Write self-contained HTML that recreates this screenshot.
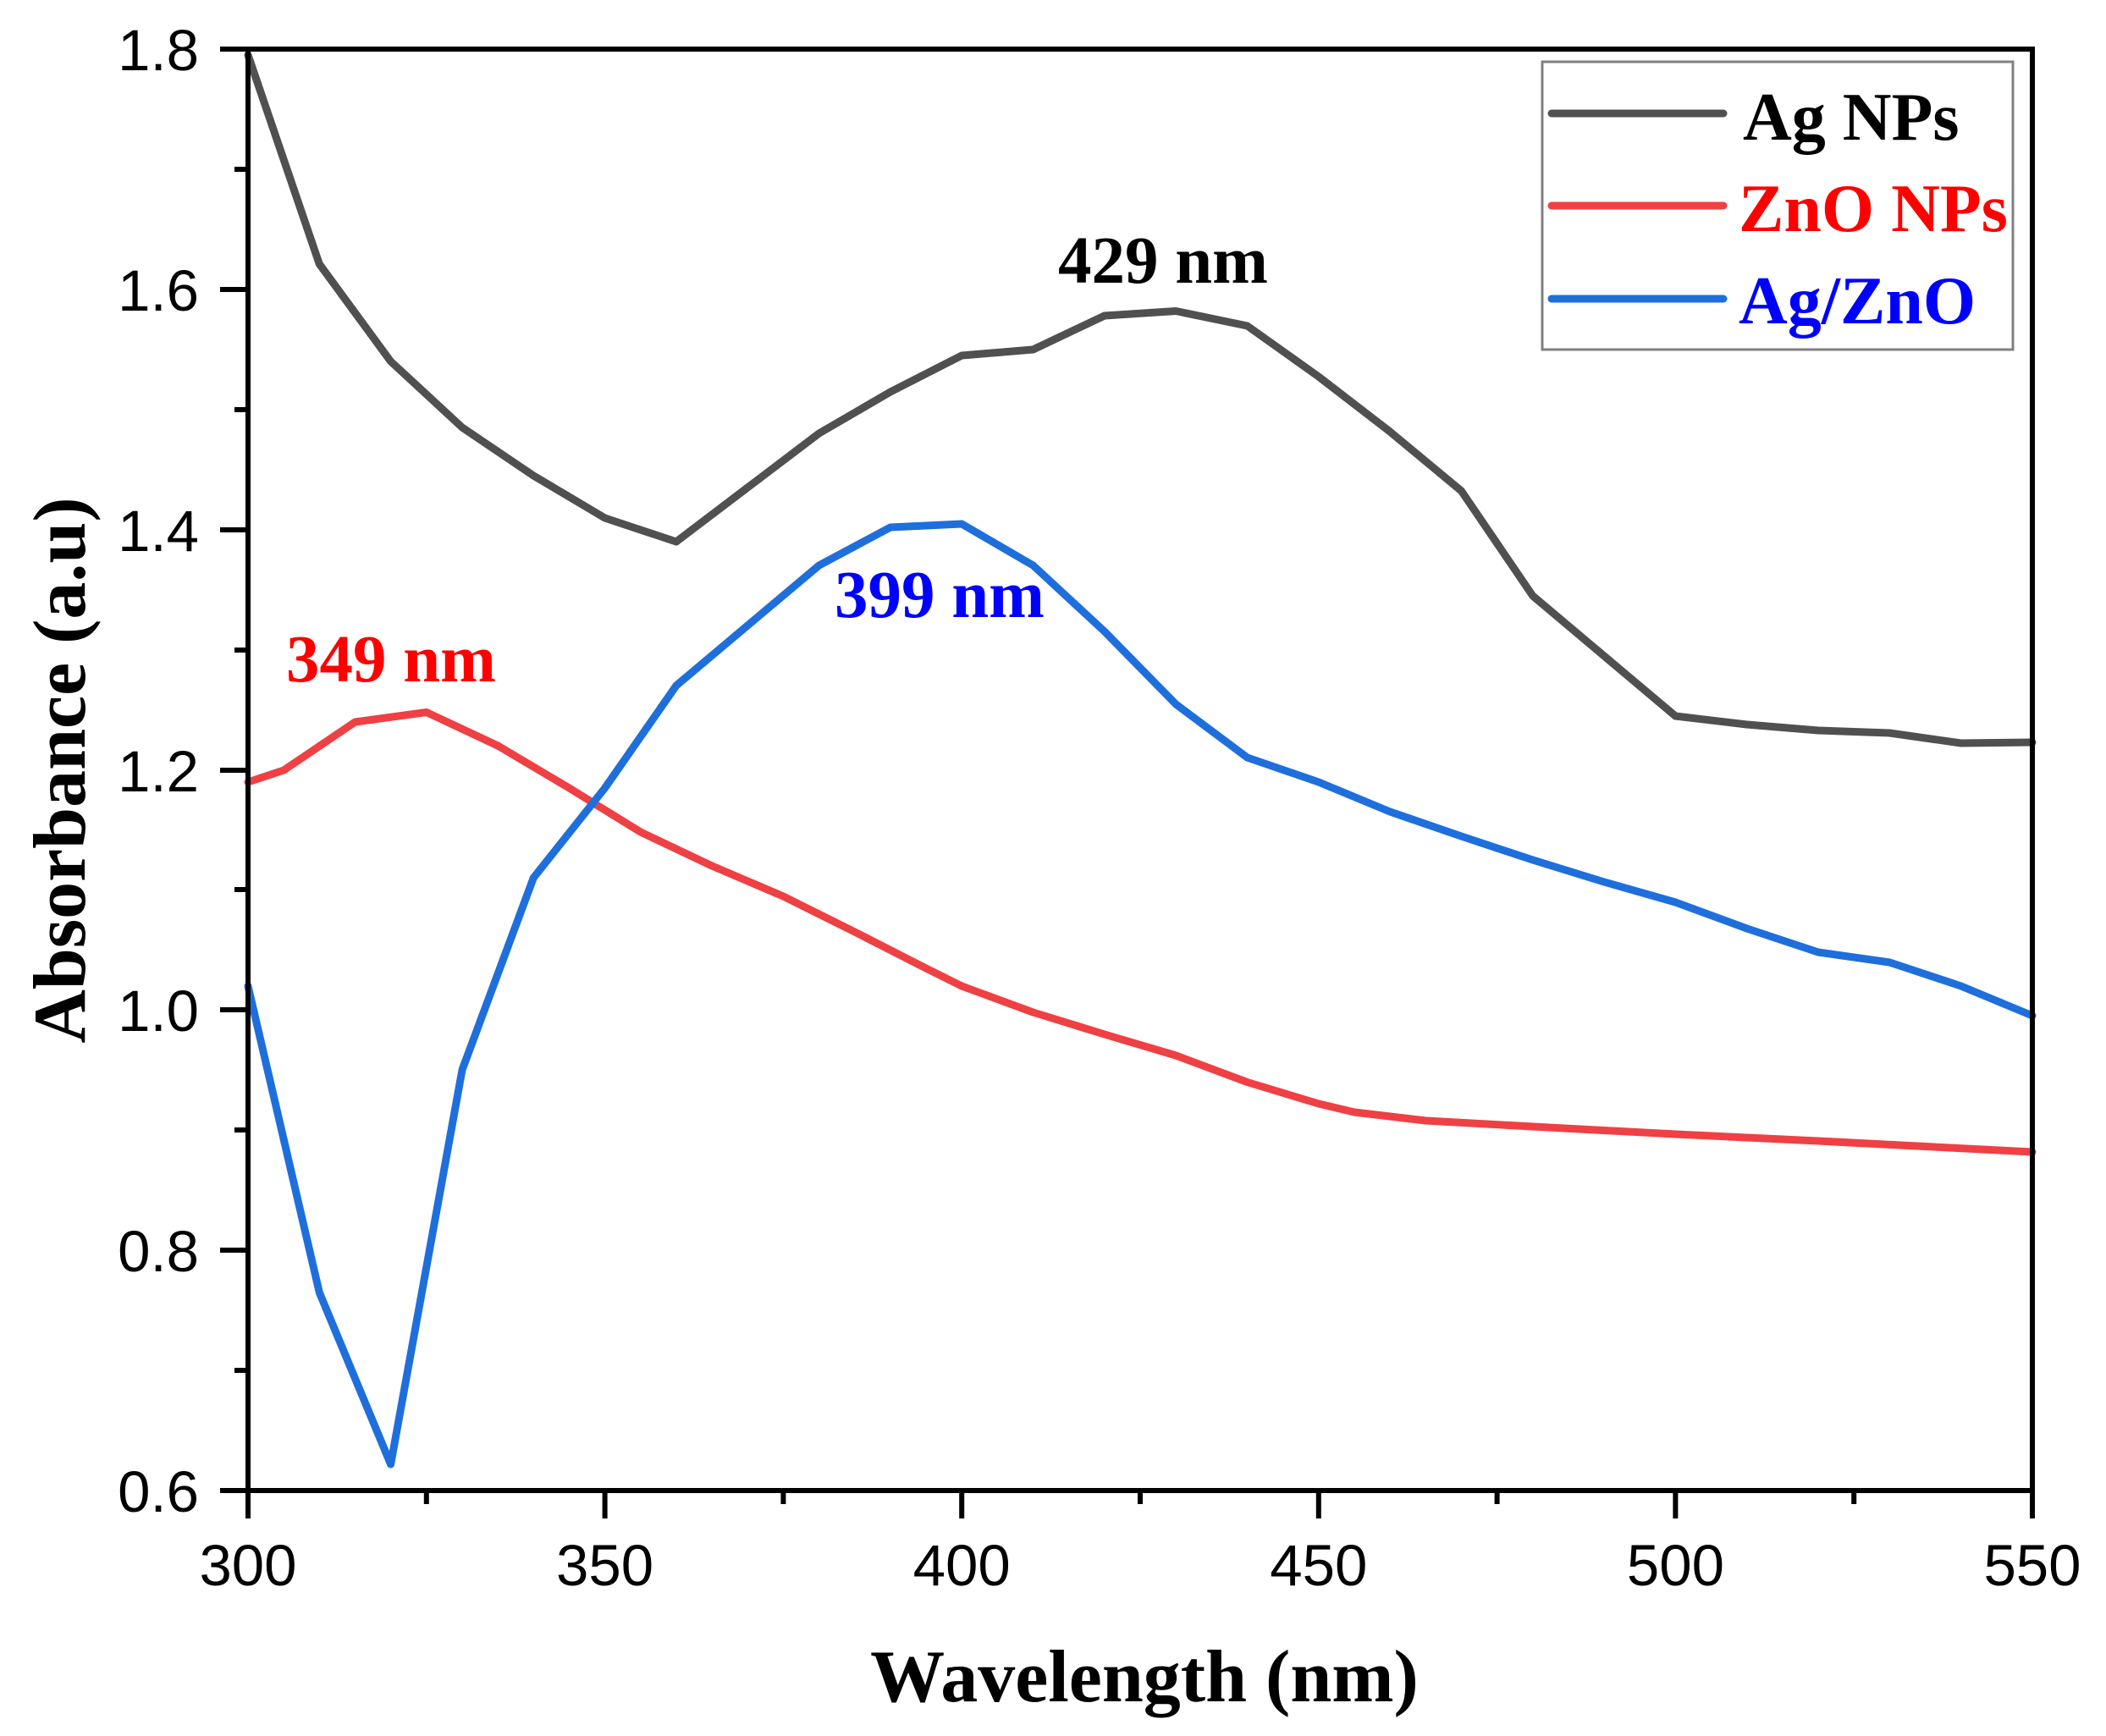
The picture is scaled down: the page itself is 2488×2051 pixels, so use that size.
<!DOCTYPE html>
<html><head><meta charset="utf-8"><style>
html,body{margin:0;padding:0;background:#fff;}
svg{display:block;}
</style></head><body>
<svg width="2488" height="2051" viewBox="0 0 2488 2051" xmlns="http://www.w3.org/2000/svg">
<rect width="2488" height="2051" fill="#fff"/>
<g fill="none" stroke-linejoin="round" stroke-linecap="round" stroke-width="9">
<polyline stroke="#505050" points="293,65 377.3,312 461.6,427 546,505 630.3,562 714.6,612 798.9,640 883.2,576 967.6,512 1051.9,463 1136.2,420 1220.5,413 1304.8,373 1389.2,367.5 1473.5,385 1557.8,445 1642.1,510 1726.4,580 1810.8,704 1895.1,775 1979.4,846 2063.7,856 2148,863 2232.4,866 2316.7,878 2401,877"/>
<polyline stroke="#ef4044" points="293,924 335.2,910 419.5,853 503.8,841.5 588.1,881 672.4,931 756.8,983 841.1,1023 925.4,1059 1009.7,1101 1094,1144 1136.2,1165 1220.5,1196 1304.8,1222 1389.2,1247 1473.5,1278.5 1557.8,1304 1600,1314 1684.3,1324 1810.8,1331 1979.4,1340 2148,1348 2401,1361"/>
<polyline stroke="#1e6fdc" points="293,1165 377.3,1527 461.6,1730 546,1264 630.3,1037 714.6,931 798.9,810 883.2,739 967.6,668 1051.9,623 1136.2,619 1220.5,668 1304.8,746 1389.2,832 1473.5,895 1557.8,924 1642.1,959 1726.4,988 1810.8,1016 1895.1,1042 1979.4,1066 2063.7,1097 2148,1125 2232.4,1137 2316.7,1165 2401,1200"/>
</g>
<g stroke="#000" stroke-width="6" fill="none">
<rect x="293" y="58" width="2108" height="1703"/>
<path d="M260 58H293M260 342H293M260 626H293M260 910H293M260 1193H293M260 1477H293M260 1761H293"/>
<path d="M277 200H293M277 484H293M277 768H293M277 1051H293M277 1335H293M277 1619H293"/>
<path d="M293 1761V1794M714.6 1761V1794M1136.2 1761V1794M1557.8 1761V1794M1979.4 1761V1794M2401 1761V1794"/>
<path d="M503.8 1761V1777M925.4 1761V1777M1347 1761V1777M1768.6 1761V1777M2190.2 1761V1777"/>
</g>
<g font-family="Liberation Sans, Arial, sans-serif" font-size="69" fill="#000" text-anchor="end">
<text x="235" y="83">1.8</text>
<text x="235" y="367">1.6</text>
<text x="235" y="651">1.4</text>
<text x="235" y="935">1.2</text>
<text x="235" y="1218">1.0</text>
<text x="235" y="1502">0.8</text>
<text x="235" y="1786">0.6</text>
</g>
<g font-family="Liberation Sans, Arial, sans-serif" font-size="69" fill="#000" text-anchor="middle">
<text x="293" y="1873">300</text>
<text x="714.6" y="1873">350</text>
<text x="1136.2" y="1873">400</text>
<text x="1557.8" y="1873">450</text>
<text x="1979.4" y="1873">500</text>
<text x="2401" y="1873">550</text>
</g>
<g font-family="Liberation Serif, Times New Roman, serif" font-weight="bold">
<text x="1352" y="2010" font-size="88" text-anchor="middle" fill="#000">Wavelength (nm)</text>
<text transform="translate(100,910) rotate(-90)" font-size="88" text-anchor="middle" fill="#000">Absorbance (a.u)</text>
<text x="1250" y="334" font-size="79" fill="#000">429 nm</text>
<text x="986" y="729" font-size="79" fill="#0000ff">399 nm</text>
<text x="338" y="805" font-size="79" fill="#ff0000">349 nm</text>
</g>
<rect x="1822" y="73" width="556" height="340" fill="#fff" stroke="#808080" stroke-width="3"/>
<g stroke-width="9" stroke-linecap="round">
<line x1="1833" y1="134" x2="2036" y2="134" stroke="#505050"/>
<line x1="1833" y1="243" x2="2036" y2="243" stroke="#ef4044"/>
<line x1="1833" y1="353" x2="2036" y2="353" stroke="#1e6fdc"/>
</g>
<g font-family="Liberation Serif, Times New Roman, serif" font-weight="bold" font-size="80">
<text x="2059" y="165" fill="#000">Ag NPs</text>
<text x="2054" y="273" fill="#ff0000">ZnO NPs</text>
<text x="2054" y="382" fill="#0000ff">Ag/ZnO</text>
</g>
</svg>
</body></html>
